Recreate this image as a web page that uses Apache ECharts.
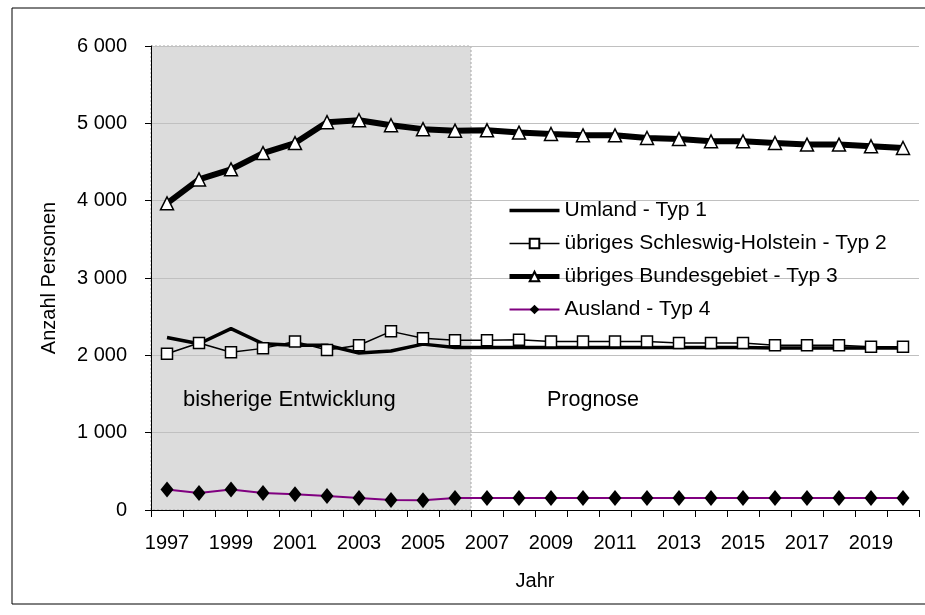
<!DOCTYPE html>
<html>
<head>
<meta charset="utf-8">
<script src="https://cdn.jsdelivr.net/npm/echarts@6/dist/echarts.min.js"></script>
<style>
html,body{margin:0;padding:0;background:#fff;}
#c{width:925px;height:615px;}
</style>
</head>
<body>
<div id="c"></div>
<script>
var years = ['1997','1998','1999','2000','2001','2002','2003','2004','2005','2006','2007','2008','2009','2010','2011','2012','2013','2014','2015','2016','2017','2018','2019','2020'];
var typ1 = [2230,2150,2345,2150,2130,2130,2030,2055,2145,2100,2100,2100,2100,2100,2100,2100,2100,2100,2100,2095,2095,2095,2095,2095];
var typ2 = [2020,2160,2040,2090,2180,2070,2130,2310,2220,2195,2195,2200,2180,2180,2180,2180,2160,2160,2160,2130,2130,2130,2110,2110];
var typ3 = [3965,4275,4405,4615,4745,5015,5040,4975,4925,4905,4910,4880,4862,4845,4845,4810,4797,4767,4767,4746,4725,4725,4703,4681];
var typ4 = [265,220,265,220,205,180,155,130,125,155,155,155,155,155,155,155,155,155,155,155,155,155,155,155];
var seriesNames = ['Umland - Typ 1','übriges Schleswig-Holstein - Typ 2','übriges Bundesgebiet - Typ 3','Ausland - Typ 4'];
var shadeSpan = [[0, 10, 6000]]; // category index range of "bisherige Entwicklung", top value
var yMax = 6000, yStep = 1000;

var FONT = 'Liberation Sans, Arial, sans-serif';
var chart = echarts.init(document.getElementById('c'), null, {renderer:'canvas'});

function fmt(v){ return String(v).replace(/\B(?=(\d{3})+(?!\d))/g, ' '); }

chart.setOption({
  animation:false,
  backgroundColor:'#fff',
  textStyle:{fontFamily:FONT},
  grid:{left:151, right:6, top:46, bottom:105, containLabel:false},
  xAxis:[{
    type:'category', data:years, boundaryGap:true,
    axisLine:{show:true, lineStyle:{color:'#000', width:1}},
    axisTick:{show:true, interval:0, alignWithLabel:false, length:7, lineStyle:{color:'#000'}},
    axisLabel:{interval:1, color:'#000', fontSize:20, fontFamily:FONT, margin:23},
    name:'Jahr', nameLocation:'middle', nameGap:61,
    nameTextStyle:{color:'#000', fontSize:20, fontFamily:FONT}
  },{
    type:'value', min:0, max:years.length, show:false
  }],
  yAxis:{
    type:'value', min:0, max:yMax, interval:yStep,
    axisLine:{show:true, lineStyle:{color:'#000', width:1}},
    axisTick:{show:true, length:6, lineStyle:{color:'#000'}},
    axisLabel:{color:'#000', fontSize:20, fontFamily:FONT, margin:24, formatter:fmt},
    splitLine:{show:true, lineStyle:{color:'#c0c0c0', width:1}},
    name:'Anzahl Personen', nameLocation:'middle', nameGap:92,
    nameTextStyle:{color:'#000', fontSize:20, fontFamily:FONT}
  },
  legend:{
    orient:'vertical', left:502, top:195, itemGap:12, itemWidth:50, itemHeight:12,
    data:[
      {name:seriesNames[0], icon:'path://M0,0 L50,0 L50,3.5 L0,3.5 Z', itemStyle:{color:'#000'}},
      {name:seriesNames[1], lineStyle:{width:1.5}},
      {name:seriesNames[2], lineStyle:{width:5}},
      {name:seriesNames[3], lineStyle:{width:2}}
    ],
    textStyle:{color:'#000', fontSize:21, fontFamily:FONT}
  },
  graphic:[
    {type:'rect', shape:{x:12, y:8, width:930, height:596}, style:{fill:'none', stroke:'#000', lineWidth:1}, z:100},
    {type:'text', left:183, top:389, style:{text:'bisherige Entwicklung', fill:'#000', font:'22px '+FONT}, z:100},
    {type:'text', left:547, top:389, style:{text:'Prognose', fill:'#000', font:'21.5px '+FONT}, z:100}
  ],
  series:[
    {
      type:'custom', xAxisIndex:1, yAxisIndex:0, z:-1, silent:true,
      data:shadeSpan,
      renderItem:function(params, api){
        var p0 = api.coord([api.value(0), api.value(2)]);
        var p1 = api.coord([api.value(1), 0]);
        return {type:'rect', shape:{x:p0[0], y:p0[1], width:p1[0]-p0[0], height:p1[1]-p0[1]},
          style:{fill:'#dcdcdc', stroke:'#a8a8a8', lineWidth:1, lineDash:[2,2]}};
      }
    },
    {
      name:seriesNames[0], type:'line', data:typ1, symbol:'none', showSymbol:false,
      lineStyle:{color:'#000', width:3.5}, itemStyle:{color:'#000'}, z:3
    },
    {
      name:seriesNames[1], type:'line', data:typ2, symbol:'rect', symbolSize:11,
      lineStyle:{color:'#000', width:1.5},
      itemStyle:{color:'#fff', borderColor:'#000', borderWidth:1.5}, z:4
    },
    {
      name:seriesNames[2], type:'line', data:typ3, symbol:'triangle', symbolSize:13,
      lineStyle:{color:'#000', width:6},
      itemStyle:{color:'#fff', borderColor:'#000', borderWidth:1.5}, z:5
    },
    {
      name:seriesNames[3], type:'line', data:typ4, symbol:'diamond', symbolSize:[13,16],
      lineStyle:{color:'#800080', width:2},
      itemStyle:{color:'#000', borderColor:'#000', borderWidth:0}, z:6
    }
  ]
});
</script>
</body>
</html>
